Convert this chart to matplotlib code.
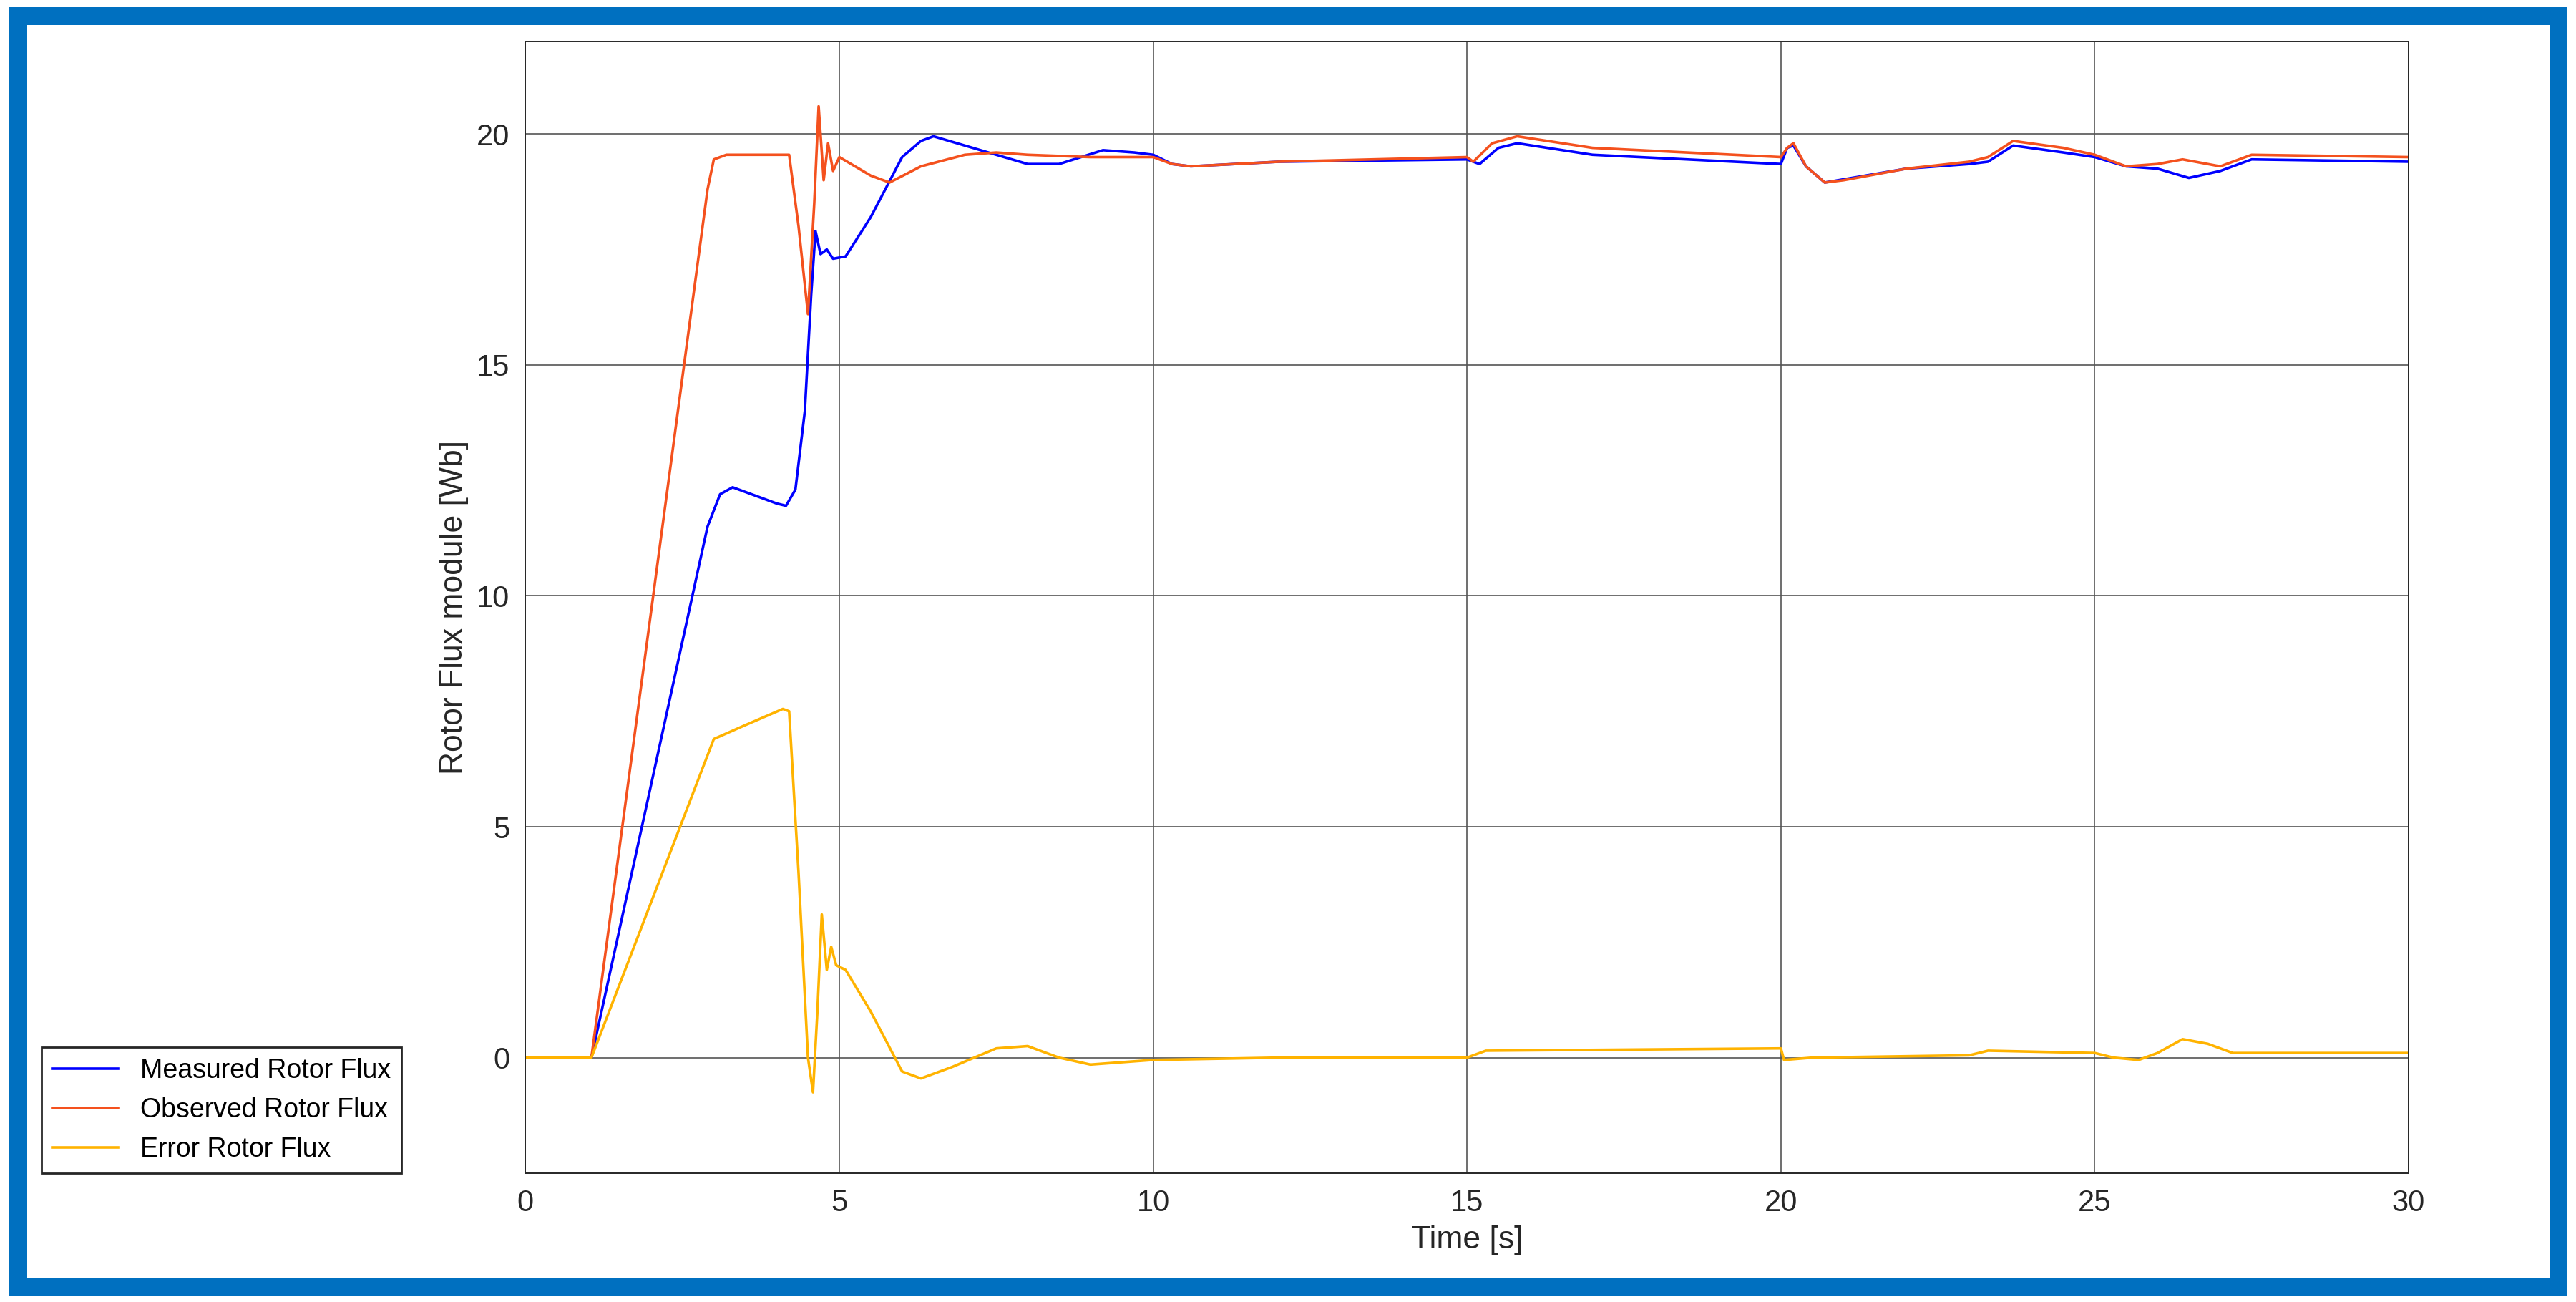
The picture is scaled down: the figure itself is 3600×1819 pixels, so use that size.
import matplotlib
matplotlib.use("Agg")
import matplotlib.pyplot as plt
from matplotlib.patches import Rectangle

# values (time [s], flux [Wb])
t_obs = [0, 1.05, 2.9, 3.0, 3.2, 4.2, 4.35, 4.5, 4.6, 4.67, 4.75, 4.82, 4.9, 5.0, 5.5, 5.8,
         6.3, 7.0, 7.5, 8.0, 9.0, 10.0, 10.3, 10.6, 12.0, 15.0, 15.1, 15.4, 15.8, 17.0,
         20.0, 20.1, 20.2, 20.4, 20.7, 21.0, 22.0, 23.0, 23.3, 23.7, 24.5, 25.0, 25.5,
         26.0, 26.4, 27.0, 27.5, 30.0]
obs = [0, 0, 18.8, 19.45, 19.55, 19.55, 18.0, 16.1, 18.5, 20.6, 19.0, 19.8, 19.2, 19.5,
       19.1, 18.95, 19.3, 19.55, 19.6, 19.55, 19.5, 19.5, 19.35, 19.3, 19.4, 19.5, 19.4,
       19.8, 19.95, 19.7, 19.5, 19.7, 19.8, 19.3, 18.95, 19.0, 19.25, 19.4, 19.5, 19.85,
       19.7, 19.55, 19.3, 19.35, 19.45, 19.3, 19.55, 19.5]

t_meas = [0, 1.05, 2.9, 3.1, 3.3, 3.7, 4.0, 4.15, 4.3, 4.45, 4.55, 4.62, 4.7, 4.8, 4.9,
          5.1, 5.5, 6.0, 6.3, 6.5, 7.0, 7.5, 8.0, 8.5, 9.2, 9.7, 10.0, 10.3, 10.6, 12.0,
          15.0, 15.2, 15.5, 15.8, 17.0, 20.0, 20.1, 20.2, 20.4, 20.7, 22.0, 23.0, 23.3,
          23.7, 24.5, 25.0, 25.5, 26.0, 26.5, 27.0, 27.5, 30.0]
meas = [0, 0, 11.5, 12.2, 12.35, 12.15, 12.0, 11.95, 12.3, 14.0, 16.5, 17.9, 17.4, 17.5,
        17.3, 17.35, 18.2, 19.5, 19.85, 19.95, 19.75, 19.55, 19.35, 19.35, 19.65, 19.6,
        19.55, 19.35, 19.3, 19.4, 19.45, 19.35, 19.7, 19.8, 19.55, 19.35, 19.7, 19.75,
        19.3, 18.95, 19.25, 19.35, 19.4, 19.75, 19.6, 19.5, 19.3, 19.25, 19.05, 19.2,
        19.45, 19.4]

t_err = [0, 1.05, 3.0, 3.5, 4.1, 4.2, 4.35, 4.5, 4.58, 4.65, 4.72, 4.8, 4.87, 4.95, 5.1,
         5.5, 6.0, 6.3, 6.8, 7.5, 8.0, 8.5, 9.0, 10.0, 12.0, 15.0, 15.3, 20.0, 20.05,
         20.5, 23.0, 23.3, 25.0, 25.3, 25.7, 26.0, 26.4, 26.8, 27.2, 30.0]
err = [0, 0, 6.9, 7.2, 7.55, 7.5, 4.0, 0.0, -0.75, 1.0, 3.1, 1.9, 2.4, 2.0, 1.9, 1.0,
       -0.3, -0.45, -0.2, 0.2, 0.25, 0.0, -0.15, -0.05, 0.0, 0.0, 0.15, 0.2, -0.05, 0.0,
       0.05, 0.15, 0.1, 0.0, -0.05, 0.1, 0.4, 0.3, 0.1, 0.1]

plt.rcParams['font.family'] = ['Liberation Sans', 'DejaVu Sans']

fig = plt.figure(figsize=(18, 9.095), dpi=200)
ax = fig.add_axes([0.204, 0.099, 0.731, 0.869])

ax.plot(t_meas, meas, color='#0000FF', lw=1.3, label='Measured Rotor Flux')
ax.plot(t_obs, obs, color='#F4511E', lw=1.3, label='Observed Rotor Flux')
ax.plot(t_err, err, color='#FFB300', lw=1.3, label='Error Rotor Flux')

ax.set_xlim(0, 30)
ax.set_ylim(-2.5, 22)
ax.set_xticks([0, 5, 10, 15, 20, 25, 30])
ax.set_yticks([0, 5, 10, 15, 20])
ax.grid(True, color='#555555', lw=0.6)
ax.tick_params(labelsize=15, length=0, pad=8, colors='#262626')
for s in ax.spines.values():
    s.set_color('#262626')
    s.set_linewidth(0.7)
ax.set_xlabel('Time [s]', fontsize=16, color='#262626')
ax.set_ylabel('Rotor Flux module [Wb]', fontsize=16, color='#262626')

fig.legend(loc='lower left', bbox_to_anchor=(0.016, 0.099), fontsize=13.5,
           fancybox=False, edgecolor='#262626', framealpha=1, borderaxespad=0,
           handlelength=2.5)

# blue frame around the whole picture
fig.patches.append(Rectangle((0.007, 0.012), 0.986, 0.976, transform=fig.transFigure,
                             fill=False, edgecolor='#0070C0', lw=9))

fig.savefig('out.png', dpi=200)
